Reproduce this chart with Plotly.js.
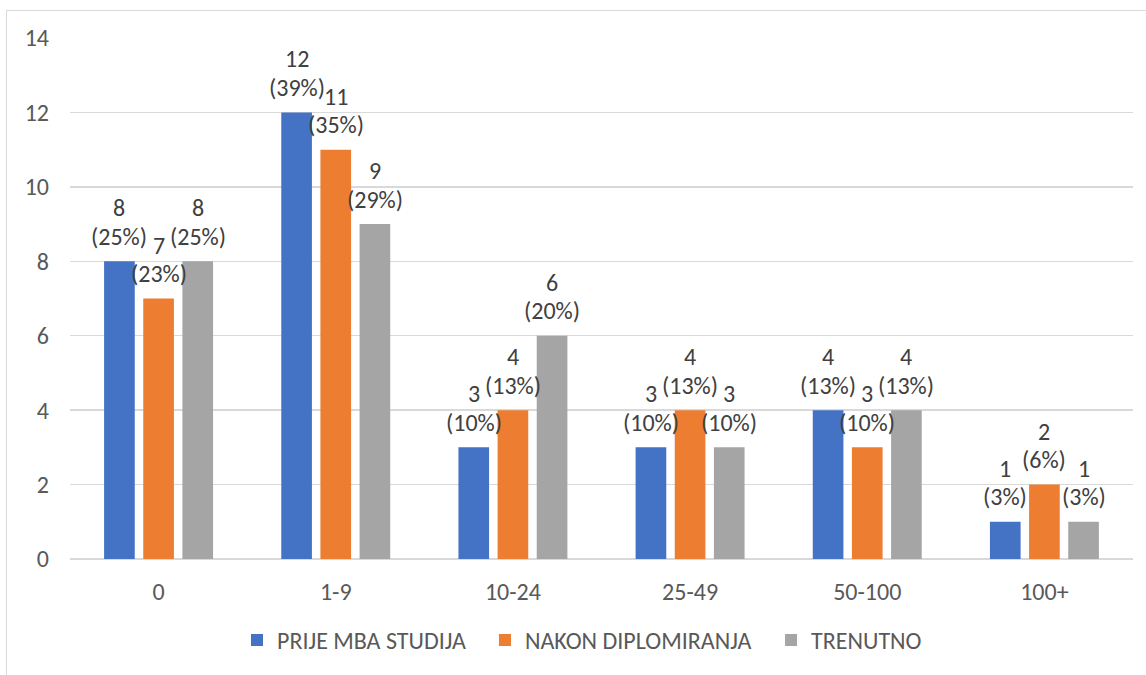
<!DOCTYPE html>
<html>
<head>
<meta charset="utf-8">
<script src="https://cdn.plot.ly/plotly-3.0.1.min.js"></script>
<style>
html,body{margin:0;padding:0;background:#fff;}
#wrap{position:relative;width:1146px;height:675px;overflow:hidden;}
#chart{width:1146px;height:675px;}
#frame{position:absolute;left:6px;top:10px;width:1200px;height:700px;border-left:1.5px solid #d9d9d9;border-top:1.5px solid #d9d9d9;pointer-events:none;}
</style>
</head>
<body>
<div id="wrap"><div id="chart"></div><div id="frame"></div></div>
<script>
const categories = ["0", "1-9", "10-24", "25-49", "50-100", "100+"];
const seriesNames = ["PRIJE MBA STUDIJA", "NAKON DIPLOMIRANJA", "TRENUTNO"];
const prije = [8, 12, 3, 3, 4, 1];
const nakon = [7, 11, 4, 4, 3, 2];
const trenutno = [8, 9, 6, 3, 4, 1];
const prijePct = ["25%", "39%", "10%", "10%", "13%", "3%"];
const nakonPct = ["23%", "35%", "13%", "13%", "10%", "6%"];
const trenutnoPct = ["25%", "29%", "20%", "10%", "13%", "3%"];
const colors = ["#4472C4", "#ED7D31", "#A5A5A5"];
const yTicks = [0, 2, 4, 6, 8, 10, 12, 14];

const FONT = "Carlito, Calibri, 'Liberation Sans', sans-serif";
const FS = 24;
const allVals = [prije, nakon, trenutno];
const allPct = [prijePct, nakonPct, trenutnoPct];
const bargap = 0.337;
const slot = (1 - bargap) / 3;
const legendIds = ["legend", "legend2", "legend3"];
const legendX = [0.1571, 0.3904, 0.6595];

const traces = allVals.map((vals, k) => ({
  type: "bar",
  name: seriesNames[k],
  x: categories,
  y: vals,
  marker: {color: colors[k]},
  legend: legendIds[k],
  hoverinfo: "skip"
}));

const annotations = [];
allVals.forEach((vals, k) => {
  vals.forEach((v, i) => {
    const xpos = i + (k - 1) * slot;
    annotations.push({
      x: xpos, y: v, xref: "x", yref: "y",
      text: "(" + allPct[k][i] + ")",
      showarrow: false, xanchor: "center", yanchor: "middle",
      yshift: 25,
      font: {family: FONT, size: FS, color: "#404040"}
    });
    annotations.push({
      x: xpos, y: v, xref: "x", yref: "y",
      text: String(v),
      showarrow: false, xanchor: "center", yanchor: "middle",
      yshift: 53.5,
      font: {family: FONT, size: FS, color: "#404040"}
    });
  });
});

function legendObj(k) {
  return {
    orientation: "h",
    x: legendX[k], xanchor: "left",
    y: -0.156, yanchor: "middle",
    bgcolor: "rgba(0,0,0,0)",
    font: {family: FONT, size: FS, color: "#595959"}
  };
}

const layout = {
  width: 1146, height: 675,
  margin: {l: 70, r: 13, t: 38, b: 114, pad: 0},
  paper_bgcolor: "#ffffff",
  plot_bgcolor: "#ffffff",
  barmode: "group",
  bargap: bargap,
  bargroupgap: 0.217,
  font: {family: FONT, size: FS, color: "#595959"},
  showlegend: true,
  legend: legendObj(0),
  legend2: legendObj(1),
  legend3: legendObj(2),
  xaxis: {
    type: "category",
    showgrid: false,
    showline: false,
    zeroline: false,
    ticks: "",
    ticklabelstandoff: 16,
    tickfont: {family: FONT, size: FS, color: "#595959"}
  },
  yaxis: {
    range: [0, 14],
    tickvals: yTicks,
    ticktext: yTicks.map(String),
    showgrid: true,
    gridcolor: "#d9d9d9",
    gridwidth: 1.5,
    zeroline: true,
    zerolinecolor: "#d9d9d9",
    zerolinewidth: 1.5,
    showline: false,
    ticks: "",
    ticklabelstandoff: 20,
    tickfont: {family: FONT, size: FS, color: "#595959"}
  },
  annotations: annotations
};

Plotly.newPlot("chart", traces, layout, {displayModeBar: false, staticPlot: true});
</script>
</body>
</html>
